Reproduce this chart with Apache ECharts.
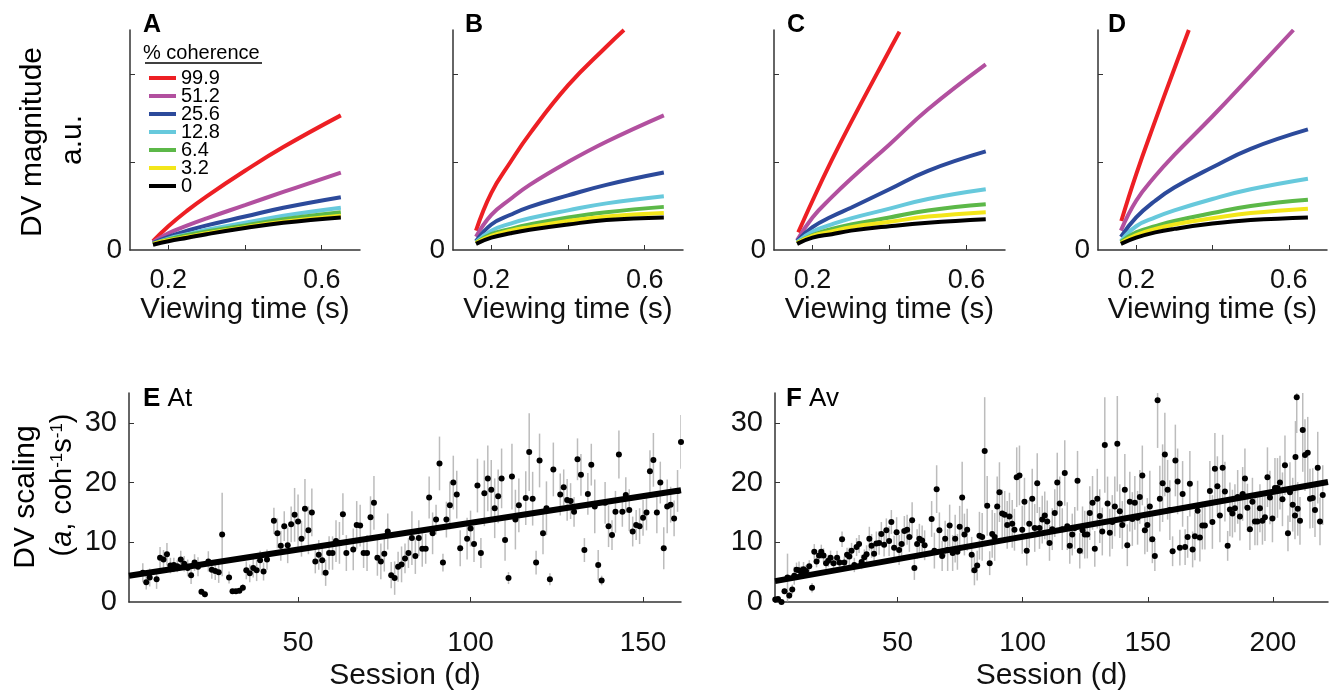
<!DOCTYPE html>
<html>
<head>
<meta charset="utf-8">
<script src="https://cdn.jsdelivr.net/npm/echarts@6.0.0/dist/echarts.min.js"></script>
<style>
  html, body { margin: 0; padding: 0; background: #fff; }
  #main { width: 1333px; height: 692px; }
</style>
</head>
<body>
<div id="main"></div>
<script>
// ---- data ----
var coherence = ['99.9', '51.2', '25.6', '12.8', '6.4', '3.2', '0'];
var lineColors = ['#ed1f24', '#b2509f', '#2c4a9b', '#67c9dc', '#5cb848', '#f3e61a', '#000000'];

// viewing time samples (s) used for the model curves
var viewTimes = [0.16, 0.2, 0.25, 0.3, 0.4, 0.5, 0.65];
// curves that leave the top of the panel end earlier
var redTimesB = [0.16, 0.2, 0.25, 0.3, 0.4, 0.5, 0.546];
var redTimesC = [0.163, 0.2, 0.25, 0.3, 0.4, 0.426];
var redTimesD = [0.161, 0.2, 0.25, 0.3, 0.338];
var magentaTimesD = [0.16, 0.2, 0.25, 0.3, 0.4, 0.5, 0.612];

// DV magnitude (a.u.), one row per coherence (99.9 ... 0)
var dvA = [
  [0.10, 0.27, 0.45, 0.61, 0.90, 1.17, 1.53],
  [0.09, 0.19, 0.28, 0.36, 0.51, 0.66, 0.88],
  [0.08, 0.15, 0.22, 0.28, 0.38, 0.48, 0.60],
  [0.07, 0.13, 0.18, 0.23, 0.31, 0.39, 0.48],
  [0.07, 0.12, 0.17, 0.21, 0.28, 0.35, 0.43],
  [0.07, 0.11, 0.15, 0.19, 0.26, 0.32, 0.39],
  [0.06, 0.10, 0.14, 0.18, 0.25, 0.31, 0.37]
];
var dvB = [
  [0.22, 0.65, 1.00, 1.32, 1.87, 2.31, 2.50],
  [0.15, 0.40, 0.58, 0.74, 1.00, 1.23, 1.53],
  [0.10, 0.29, 0.40, 0.49, 0.62, 0.74, 0.88],
  [0.09, 0.22, 0.30, 0.36, 0.45, 0.53, 0.61],
  [0.08, 0.18, 0.24, 0.29, 0.37, 0.43, 0.49],
  [0.08, 0.16, 0.22, 0.26, 0.33, 0.38, 0.42],
  [0.07, 0.14, 0.19, 0.23, 0.29, 0.34, 0.37]
];
var dvC = [
  [0.20, 0.56, 1.02, 1.45, 2.27, 2.48],
  [0.11, 0.37, 0.60, 0.81, 1.20, 1.60, 2.11],
  [0.10, 0.26, 0.38, 0.48, 0.69, 0.90, 1.12],
  [0.09, 0.21, 0.29, 0.36, 0.47, 0.58, 0.69],
  [0.08, 0.17, 0.24, 0.29, 0.37, 0.45, 0.52],
  [0.08, 0.16, 0.21, 0.26, 0.32, 0.38, 0.43],
  [0.07, 0.14, 0.18, 0.22, 0.27, 0.31, 0.35]
];
var dvD = [
  [0.33, 0.86, 1.47, 2.06, 2.50],
  [0.22, 0.56, 0.84, 1.08, 1.52, 1.98, 2.50],
  [0.15, 0.37, 0.56, 0.71, 0.94, 1.15, 1.37],
  [0.10, 0.27, 0.37, 0.45, 0.58, 0.69, 0.81],
  [0.09, 0.20, 0.27, 0.33, 0.42, 0.50, 0.57],
  [0.08, 0.17, 0.24, 0.29, 0.36, 0.42, 0.47],
  [0.07, 0.14, 0.20, 0.24, 0.30, 0.34, 0.37]
];

// monkey At: session, DV scaling and error half-length
var eSession = [5,6,7,9,10,11,12,13,14,15,16,17,18,19,20,21,22,23,24,25,26,27,28,30,31,32,33,34,35,36,37,38,39,40,41,
  43,44,45,46,47,48,49,50,51,52,53,54,55,56,57,58,59,60,61,62,63,64,66,67,68,69,70,71,72,73,74,75,76,77,78,79,80,
  81,82,83,84,85,86,87,88,89,90,91,92,93,94,95,96,97,99,100,101,102,103,104,105,106,107,108,109,110,111,112,113,114,
  116,117,118,119,120,121,122,123,124,126,127,128,129,130,131,132,133,134,135,136,137,138,139,140,141,142,143,144,
  145,146,147,148,149,150,151,152,153,154,155,156,157,158,159,160,161];
var eValue = [4.9,3.3,4.1,3.8,7.4,7.1,8.0,6.1,6.2,6.0,7.1,6.4,5.7,4.5,6.6,5.9,1.7,1.3,6.8,5.4,5.2,5.0,11.3,4.1,1.8,1.8,1.9,2.4,5.3,4.8,5.7,5.3,7.0,5.1,7.1,
  13.6,11.5,9.4,12.7,9.5,13.0,14.6,13.5,10.6,15.6,12.0,15.0,6.8,7.9,7.0,4.9,8.2,8.2,10.2,9.9,14.7,8.2,8.8,12.9,12.8,8.2,8.2,14.2,16.6,7.4,6.8,8.1,11.8,4.5,4.0,5.9,6.3,
  7.3,8.2,10.7,7.7,10.7,8.9,8.9,17.5,11.5,13.8,23.2,6.6,13.8,16.2,20.0,18.0,9.0,10.6,12.3,9.7,19.5,8.2,18.2,20.7,18.8,15.7,17.7,20.7,10.4,4.0,21.0,13.8,16.2,
  17.4,25.1,17.3,6.6,23.7,11.5,15.7,3.8,22.2,18.0,19.2,17.1,16.9,15.1,23.9,21.3,8.7,18.1,23.0,16.0,6.2,3.6,16.6,12.7,11.2,15.1,24.7,15.1,
  17.9,15.4,11.8,12.9,12.7,14.1,15.0,21.9,23.8,15.0,20.0,9.0,16.0,16.3,14.0,18.6,26.8];
var eErr = [1.6,1.2,1.5,1.6,1.8,1.6,1.9,1.3,1.2,1.0,1.5,1.3,1.4,1.5,1.4,1.6,0.5,0.5,1.7,1.5,1.5,1.8,7.0,1.0,0.4,0.4,0.4,0.6,1.5,1.5,1.6,1.8,1.6,1.5,1.7,
  2.2,2.5,2.5,2.5,3.0,3.0,4.5,4.5,3.0,5.0,4.0,4.0,2.0,2.5,2.5,2.2,2.8,2.8,3.5,3.5,3.5,3.0,3.5,4.0,3.5,2.5,3.0,3.5,4.5,3.0,3.0,3.0,3.0,2.2,2.8,2.5,3.0,
  2.5,2.5,4.5,3.0,3.0,3.0,2.5,3.5,3.5,2.5,4.5,1.5,3.0,4.0,4.5,4.0,3.0,3.5,3.0,3.0,4.5,2.5,5.5,5.5,5.0,5.0,4.5,5.0,3.5,1.0,5.5,5.0,4.5,
  4.5,6.5,4.5,2.0,4.5,3.5,4.5,1.0,4.5,3.5,3.0,3.5,3.0,2.5,3.5,3.5,2.0,3.5,3.5,4.5,2.5,0.8,3.5,3.5,2.5,3.5,4.0,2.5,
  3.0,3.5,2.5,2.5,3.0,3.0,3.0,3.5,4.5,3.5,3.5,3.5,4.5,3.0,3.0,3.5,4.5];
var eFitSession = [1, 161];
var eFitValue = [4.4, 18.7];

// monkey Av
var fSession = [1.1,2.2,3.6,4.8,6.0,6.7,7.9,8.7,9.6,10.6,11.5,12.4,13.4,14.7,15.8,16.7,17.6,18.6,19.5,20.4,21.4,22.3,23.2,24.4,25.8,26.8,27.8,28.7,29.8,
  30.7,31.6,32.7,33.6,34.6,35.6,36.7,37.6,38.7,39.6,40.6,41.5,42.6,43.5,44.6,45.5,46.6,47.5,48.6,49.6,50.6,51.6,52.7,53.8,54.7,55.8,56.7,57.8,58.7,59.8,
  60.8,63.6,64.7,65.6,66.7,67.8,69.0,70.0,70.8,72.0,73.0,73.9,74.8,75.8,76.7,77.8,79.6,80.7,81.8,82.7,83.8,84.8,85.8,86.8,87.8,88.8,89.8,90.7,91.8,
  92.8,93.8,94.7,95.8,96.7,97.6,98.7,99.8,100.7,101.6,102.6,103.8,104.8,105.8,106.7,107.8,108.8,109.8,110.7,111.8,112.8,113.8,114.8,115.8,116.8,
  117.8,118.8,119.8,120.8,121.9,122.8,123.9,124.8,125.8,126.8,127.9,128.8,129.8,130.8,131.8,132.8,133.9,134.8,135.8,136.8,137.8,138.8,139.8,
  140.8,141.8,142.8,143.8,144.8,145.9,146.8,147.8,148.8,149.8,150.8,151.8,152.8,153.9,154.8,155.9,156.8,157.9,158.8,159.9,161.0,161.9,162.8,
  163.9,164.9,165.9,166.8,167.9,168.8,169.9,170.8,171.8,172.8,174.8,175.8,176.8,177.8,178.8,179.9,180.8,181.9,182.8,183.8,184.8,185.9,186.8,
  187.9,188.8,189.8,190.8,191.8,192.8,193.8,194.8,195.8,196.8,197.8,198.8,199.8,200.8,201.8,202.8,203.8,204.8,206.0,206.8,207.9,208.8,209.0,
  209.5,209.9,210.8,211.9,212.8,213.9,214.8,215.9,216.8,217.9,218.8,219.9];
var fValue = [0.4,0.5,0.0,1.8,4.1,1.1,2.1,4.4,5.4,5.3,5.0,5.5,5.2,6.0,2.4,8.4,6.8,7.8,8.4,7.8,6.5,6.9,7.4,6.5,7.4,6.6,10.5,6.6,7.9,
  7.6,8.6,6.2,9.2,9.7,6.7,7.5,8.0,10.6,9.4,8.1,9.8,9.9,11.4,9.6,12.0,10.2,13.4,9.1,11.7,8.7,9.7,11.9,12.1,10.9,13.7,5.7,9.7,10.6,10.3,
  9.5,13.9,8.6,18.9,12.0,7.7,10.6,8.7,12.8,8.2,10.6,8.4,12.6,17.5,11.3,12.1,7.9,5.3,6.1,11.1,10.9,25.3,16.1,6.5,11.4,10.9,16.0,18.4,14.8,
  14.6,12.9,14.3,13.1,12.1,20.9,21.2,12.1,16.8,8.6,13.1,17.3,12.4,19.9,12.4,13.8,14.5,13.5,9.9,12.2,14.9,20.0,16.5,12.2,21.6,
  12.7,9.4,11.3,12.4,20.3,8.6,12.0,11.3,11.3,14.9,16.6,8.9,17.3,14.4,11.8,26.3,16.5,11.6,13.4,16.0,26.5,15.2,12.9,
  18.8,9.5,16.8,13.9,16.6,14.1,17.6,21.2,12.0,12.9,16.0,10.5,7.7,33.8,17.3,19.9,24.7,18.8,15.4,8.5,23.7,20.2,9.1,
  18.1,9.2,10.9,19.8,8.8,11.0,15.3,10.8,12.8,12.8,18.6,13.4,22.3,19.4,14.5,22.5,18.5,9.4,15.5,14.8,15.7,17.6,14.3,
  18.1,20.7,15.8,12.2,16.8,13.5,13.5,15.7,13.6,14.2,20.9,17.5,14.0,19.1,19.1,20.0,17.2,22.9,11.5,18.4,16.3,14.5,24.3,
  34.3,15.6,13.6,28.8,24.6,25.0,17.3,17.4,15.4,22.5,13.5,17.9];
var fErr = [0.3,0.3,0.2,0.5,4.0,0.6,0.8,1.5,1.2,1.5,1.0,1.2,1.0,1.0,0.8,1.3,1.0,1.0,1.2,1.2,1.0,1.0,1.2,1.0,1.2,1.0,1.3,1.0,1.2,
  1.5,1.3,1.2,1.5,1.5,1.2,1.3,1.5,2.0,2.0,1.5,2.0,2.0,2.0,2.0,2.0,2.5,2.0,2.0,2.5,2.5,2.5,2.5,2.5,2.5,3.0,2.0,2.5,2.5,2.5,
  2.5,3.0,3.0,4.0,3.0,2.5,3.0,3.5,3.5,3.0,4.0,3.0,3.5,6.0,3.5,3.5,3.0,2.5,2.5,4.0,4.0,9.0,5.0,2.0,4.0,4.0,5.0,5.0,4.0,
  4.0,4.0,4.0,4.0,3.5,5.0,5.0,4.0,4.0,2.5,4.0,5.0,4.0,5.0,3.5,4.0,4.0,3.5,3.0,3.5,4.0,5.0,4.5,3.5,5.5,
  4.0,3.0,3.5,3.5,5.0,3.0,4.0,4.0,4.0,4.5,4.5,3.0,5.0,4.5,4.0,8.0,4.5,4.0,4.5,5.0,8.0,4.5,4.0,
  6.0,3.5,5.0,4.5,4.5,4.5,4.5,5.0,4.0,4.5,6.0,4.0,2.5,8.0,5.5,6.5,7.0,5.0,5.0,2.5,6.0,5.5,3.0,
  5.5,3.0,3.5,5.5,3.0,4.0,5.0,4.0,4.0,4.0,5.0,4.5,6.0,5.0,4.5,5.5,5.0,2.5,4.5,4.0,4.0,4.5,4.0,
  4.5,5.0,4.0,3.5,4.0,4.0,4.0,4.0,4.0,4.0,5.0,4.5,4.0,5.0,5.0,4.5,4.5,5.0,3.0,5.0,4.5,4.0,6.0,
  6.0,4.5,4.0,7.0,6.0,6.0,5.0,5.0,4.5,6.0,4.0,5.0];
var fFitSession = [1, 222];
var fFitValue = [3.5, 20.1];

// ---- chart ----
var font = '"Liberation Sans", Arial, Helvetica, sans-serif';
var axisColor = '#333';
var chart = echarts.init(document.getElementById('main'));

var grids = [
  {left: 130, top: 30, width: 230, height: 220},
  {left: 453, top: 30, width: 230, height: 220},
  {left: 774, top: 30, width: 231, height: 220},
  {left: 1098, top: 30, width: 229, height: 220},
  {left: 129, top: 393, width: 552, height: 221},
  {left: 775, top: 393, width: 553, height: 221}
];

var xAxes = [], yAxes = [], series = [];
var panelDv = [dvA, dvB, dvC, dvD];
var panelTimes = [[], [redTimesB], [redTimesC], [redTimesD, magentaTimesD]];

for (var p = 0; p < 4; p++) {
  xAxes.push({
    type: 'value', gridIndex: p, min: 0.1, max: 0.7,
    axisLine: {show: true, onZero: false, lineStyle: {color: axisColor, width: 1.5}},
    axisTick: {show: true, inside: true, length: 5, customValues: [0.2, 0.4, 0.6], lineStyle: {color: axisColor}},
    axisLabel: {customValues: [0.2, 0.6], fontSize: 27, fontFamily: font, color: '#111', margin: 17},
    splitLine: {show: false},
    name: 'Viewing time (s)', nameLocation: 'middle', nameGap: 45,
    nameTextStyle: {fontSize: 29.5, fontFamily: font, color: '#111'}
  });
  yAxes.push({
    type: 'value', gridIndex: p, min: 0, max: 2.5,
    axisLine: {show: true, lineStyle: {color: axisColor, width: 1.5}},
    axisTick: {show: true, inside: true, length: 5, customValues: [1, 2], lineStyle: {color: axisColor}},
    axisLabel: {customValues: [0], fontSize: 28, fontFamily: font, color: '#111', margin: 8},
    splitLine: {show: false}
  });
  for (var i = 0; i < 7; i++) {
    var times = panelTimes[p][i] || viewTimes;
    var vals = panelDv[p][i];
    series.push({
      type: 'line', name: coherence[i], xAxisIndex: p, yAxisIndex: p,
      data: times.map(function (t, k) { return [t, vals[k]]; }),
      smooth: 0.45, symbol: 'none', showSymbol: false, silent: true,
      color: lineColors[i],
      lineStyle: {width: 4, color: lineColors[i]}
    });
  }
}

// session panels E and F
var sessionPanels = [
  {session: eSession, value: eValue, err: eErr, fitS: eFitSession, fitV: eFitValue, max: 161, ticks: [50, 100, 150]},
  {session: fSession, value: fValue, err: fErr, fitS: fFitSession, fitV: fFitValue, max: 222, ticks: [50, 100, 150, 200]}
];
sessionPanels.forEach(function (sp, j) {
  var g = 4 + j;
  xAxes.push({
    type: 'value', gridIndex: g, min: 1, max: sp.max,
    axisLine: {show: true, onZero: false, lineStyle: {color: axisColor, width: 1.5}},
    axisTick: {show: true, inside: true, length: 5, customValues: sp.ticks, lineStyle: {color: axisColor}},
    axisLabel: {customValues: sp.ticks, fontSize: 28, fontFamily: font, color: '#111', margin: 27},
    splitLine: {show: false},
    name: 'Session (d)', nameLocation: 'middle', nameGap: 59,
    nameTextStyle: {fontSize: 30, fontFamily: font, color: '#111'}
  });
  yAxes.push({
    type: 'value', gridIndex: g, min: 0, max: 35,
    axisLine: {show: true, lineStyle: {color: axisColor, width: 1.5}},
    axisTick: {show: true, inside: true, length: 5, customValues: [10, 20, 30], lineStyle: {color: axisColor}},
    axisLabel: {customValues: [0, 10, 20, 30], fontSize: 29, fontFamily: font, color: '#111', margin: 12},
    splitLine: {show: false}
  });
  // error bars
  series.push({
    type: 'custom', xAxisIndex: g, yAxisIndex: g, clip: true, silent: true, z: 1,
    data: sp.session.map(function (s, k) { return [s, sp.value[k], sp.err[k]]; }),
    renderItem: function (params, api) {
      var x = api.value(0), y = api.value(1), e = api.value(2);
      var lo = api.coord([x, y - e]), hi = api.coord([x, y + e]);
      return {type: 'line', shape: {x1: lo[0], y1: lo[1], x2: hi[0], y2: hi[1]},
        style: {stroke: '#bcbcbc', lineWidth: 1.5}};
    }
  });
  // regression line
  series.push({
    type: 'line', xAxisIndex: g, yAxisIndex: g, silent: true, z: 3,
    data: sp.fitS.map(function (s, k) { return [s, sp.fitV[k]]; }),
    symbol: 'none', lineStyle: {color: '#000', width: 6}
  });
  // sessions
  series.push({
    type: 'scatter', xAxisIndex: g, yAxisIndex: g, silent: true, z: 4,
    data: sp.session.map(function (s, k) { return [s, sp.value[k]]; }),
    symbolSize: 6, itemStyle: {color: '#000', opacity: 1}
  });
});

function label(text, x, y, size, bold) {
  return {type: 'text', x: x, y: y, silent: true,
    style: {text: text, fontSize: size, fontFamily: font, fontWeight: bold ? 'bold' : 'normal', fill: '#000'}};
}

var graphics = [
  label('A', 143, 13, 25, true),
  label('B', 465, 13, 25, true),
  label('C', 787, 13, 25, true),
  label('D', 1108, 13, 25, true),
  {type: 'text', x: 143, y: 386, silent: true,
    style: {text: '{b|E} At', fontSize: 26, fontFamily: font, fill: '#000',
      rich: {b: {fontSize: 26, fontWeight: 'bold', fontFamily: font}}}},
  {type: 'text', x: 786, y: 386, silent: true,
    style: {text: '{b|F} Av', fontSize: 26, fontFamily: font, fill: '#000',
      rich: {b: {fontSize: 26, fontWeight: 'bold', fontFamily: font}}}},
  {type: 'text', x: 33, y: 142, rotation: Math.PI / 2, silent: true,
    style: {text: 'DV magnitude', fontSize: 30, fontFamily: font, fill: '#000', align: 'center', verticalAlign: 'middle'}},
  {type: 'text', x: 73, y: 140, rotation: Math.PI / 2, silent: true,
    style: {text: 'a.u.', fontSize: 30, fontFamily: font, fill: '#000', align: 'center', verticalAlign: 'middle'}},
  {type: 'text', x: 26, y: 497, rotation: Math.PI / 2, silent: true,
    style: {text: 'DV scaling', fontSize: 30, fontFamily: font, fill: '#000', align: 'center', verticalAlign: 'middle'}},
  {type: 'text', x: 63, y: 485, rotation: Math.PI / 2, silent: true,
    style: {text: '({i|a}, coh{s|-1}s{s|-1})', fontSize: 29, fontFamily: font, fill: '#000', align: 'center', verticalAlign: 'middle',
      rich: {i: {fontSize: 29, fontStyle: 'italic', fontFamily: font}, s: {fontSize: 17, fontFamily: font, verticalAlign: 'top'}}}},
  label('% coherence', 143, 43, 20, false),
  {type: 'line', silent: true, shape: {x1: 145, y1: 63, x2: 262, y2: 63}, style: {stroke: '#000', lineWidth: 1.5}}
];

chart.setOption({
  animation: false,
  backgroundColor: '#fff',
  grid: grids,
  xAxis: xAxes,
  yAxis: yAxes,
  legend: {
    data: coherence, orient: 'vertical', left: 144, top: 63,
    icon: 'rect', itemWidth: 27, itemHeight: 4, itemGap: -2,
    textStyle: {fontSize: 20, fontFamily: font, color: '#000', lineHeight: 18},
    selectedMode: false
  },
  graphic: graphics,
  series: series
});
</script>
</body>
</html>
